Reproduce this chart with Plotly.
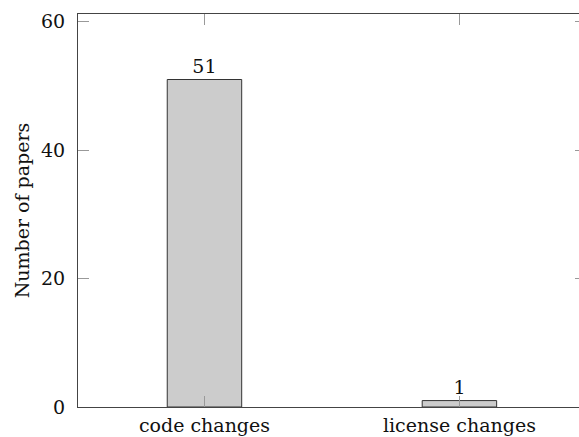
import plotly.graph_objects as go

categories = ["code changes", "license changes"]
values = [51, 1]
y_ticks = [0, 20, 40, 60]

FONT = "DejaVu Serif"
FS = 19

fig = go.Figure()
fig.add_trace(go.Bar(
    x=[0, 1], y=values,
    width=0.292,
    marker=dict(color="#cccccc", line=dict(color="#333333", width=1)),
    text=[str(v) for v in values], textposition="outside",
    textfont=dict(family=FONT, size=FS, color="#111111"),
    cliponaxis=False,
))
# invisible trace for right-side ticks
fig.add_trace(go.Scatter(x=[0], y=[0], yaxis="y2", mode="markers",
                         marker=dict(opacity=0), showlegend=False, hoverinfo="skip"))

fig.update_layout(
    width=579, height=437,
    margin=dict(l=78, r=0, t=14, b=30, autoexpand=False),
    paper_bgcolor="white", plot_bgcolor="white",
    showlegend=False,
    font=dict(family=FONT, size=FS, color="#111111"),
    xaxis=dict(
        range=[-0.496, 1.469], tickvals=[0, 1], ticktext=categories,
        ticks="inside", ticklen=11, tickcolor="#999999", tickwidth=1,
        showline=True, linecolor="#444444", linewidth=1.2, mirror="ticks",
        showgrid=False, zeroline=False, fixedrange=True, automargin=False,
        ticklabelstandoff=1,
    ),
    yaxis=dict(
        range=[0, 61.2], tickvals=y_ticks,
        ticks="inside", ticklen=11, tickcolor="#999999", tickwidth=1,
        showline=True, linecolor="#444444", linewidth=1.2,
        showgrid=False, zeroline=False, ticklabelstandoff=8, automargin=False,
        title=dict(text="Number of papers", standoff=6, font=dict(family=FONT, size=FS)),
    ),
    yaxis2=dict(
        range=[0, 61.2], tickvals=y_ticks, overlaying="y", side="right",
        ticks="inside", ticklen=4, tickcolor="#999999", showticklabels=False,
        showline=False, showgrid=False, zeroline=False, automargin=False,
    ),
)

fig.write_html("out.html", config={"displayModeBar": False},
               post_script="document.body.style.margin='0';document.body.style.overflow='hidden';")
